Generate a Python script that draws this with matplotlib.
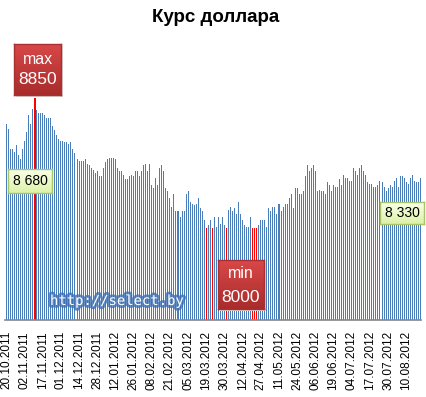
import matplotlib
matplotlib.use('Agg')
import matplotlib.pyplot as plt
import matplotlib.patheffects as pe
import numpy as np

W, H = 427, 397

# daily USD rate (BYR), one bar per working day
rate = [8680, 8650, 8520, 8520, 8500, 8540, 8480, 8450, 8520, 8570,
        8630, 8740, 8680, 8780, 8850, 8770, 8750, 8750, 8750, 8740,
        8720, 8720, 8720, 8670, 8640, 8610, 8580, 8570, 8570, 8560,
        8560, 8550, 8560, 8520, 8490, 8450, 8440, 8440, 8440, 8450,
        8420, 8410, 8390, 8380, 8360, 8370, 8340, 8340, 8390, 8430,
        8450, 8460, 8460, 8460, 8450, 8390, 8370, 8370, 8350, 8320,
        8320, 8340, 8350, 8340, 8370, 8370, 8340, 8370, 8410, 8420,
        8370, 8420, 8280, 8260, 8330, 8280, 8390, 8410, 8370, 8260,
        8240, 8200, 8140, 8220, 8110, 8110, 8070, 8110, 8110, 8220,
        8240, 8170, 8160, 8150, 8160, 8200, 8130, 8110, 8050, 8000,
        8020, 8050, 8000, 8070, 8010, 8070, 8030, 8070, 8020, 8000,
        8120, 8140, 8110, 8130, 8090, 8170, 8090, 8050, 8020, 8010,
        8010, 8070, 8000, 8000, 8000, 8020, 8050, 8050, 8050, 8010,
        8130, 8110, 8140, 8140, 8090, 8160, 8110, 8140, 8160, 8160,
        8200, 8220, 8130, 8260, 8260, 8220, 8220, 8240, 8340, 8410,
        8370, 8390, 8410, 8370, 8240, 8250, 8240, 8240, 8220, 8300,
        8280, 8240, 8280, 8270, 8270, 8320, 8280, 8350, 8330, 8330,
        8310, 8310, 8390, 8370, 8350, 8390, 8410, 8370, 8350, 8300,
        8290, 8290, 8270, 8270, 8280, 8310, 8300, 8270, 8240, 8260,
        8280, 8270, 8310, 8330, 8270, 8340, 8340, 8330, 8300, 8290,
        8330, 8350, 8310, 8300, 8300, 8330]

dates = ['20.10.2011', '02.11.2011', '17.11.2011', '01.12.2011', '14.12.2011',
         '28.12.2011', '12.01.2012', '26.01.2012', '08.02.2012', '21.02.2012',
         '05.03.2012', '19.03.2012', '30.03.2012', '12.04.2012', '27.04.2012',
         '11.05.2012', '24.05.2012', '06.06.2012', '19.06.2012', '04.07.2012',
         '17.07.2012', '30.07.2012', '10.08.2012']
label_step = 9

rate = np.array(rate)
x = np.arange(len(rate))
vmax, vmin = rate.max(), rate.min()
imax = int(np.argmax(rate))


def fx(px):
    return px / W


def fy(py):
    return 1 - py / H


fig = plt.figure(figsize=(W / 100, H / 100), dpi=100)
fig.patch.set_facecolor('white')

ax = fig.add_axes([fx(5.3), fy(320), fx(421.4) - fx(5.3), 245 / H])
blue = '#4A7EBB'
ax.bar(x, rate, width=0.5, color=blue, linewidth=0, antialiased=False)
is_min = rate == vmin
ax.bar(x[is_min], rate[is_min], width=0.6, color='red', linewidth=0, antialiased=False)
ax.bar([imax], [vmax], width=1.0, color='red', linewidth=0, antialiased=False)

ax.set_ylim(7400, 9000)
ax.set_xlim(-0.5, len(rate) - 0.5)
for s in ['top', 'left', 'right']:
    ax.spines[s].set_visible(False)
ax.spines['bottom'].set_color('#868686')
ax.spines['bottom'].set_linewidth(1.2)
ax.set_yticks([])
ax.set_xticks(x[::label_step][:len(dates)])
ax.set_xticklabels(dates, rotation=90, fontsize=8.5, family='Liberation Sans')
ax.tick_params(axis='x', length=0, pad=8)

fig.text(fx(216), fy(17), 'Курс доллара', ha='center', va='center',
         fontsize=13.5, fontweight='bold', family='Liberation Sans')


def grad_box(x0, y0, x1, y1, c_top, c_bot, edge, shadow=False):
    if shadow:
        sh = fig.add_axes([fx(x0 + 2), fy(y1 + 2), fx(x1 - x0), (y1 - y0) / H])
        sh.set_facecolor('#dadada')
        sh.set_xticks([]); sh.set_yticks([])
        for s in sh.spines.values():
            s.set_visible(False)
    bx = fig.add_axes([fx(x0), fy(y1), fx(x1 - x0), (y1 - y0) / H])
    c1 = np.array(matplotlib.colors.to_rgb(c_top))
    c2 = np.array(matplotlib.colors.to_rgb(c_bot))
    t = np.linspace(0, 1, 50)[:, None, None]
    img = c1 * (1 - t) + c2 * t
    bx.imshow(img, aspect='auto', extent=[0, 1, 0, 1])
    bx.set_xticks([]); bx.set_yticks([])
    for s in bx.spines.values():
        s.set_color(edge)
        s.set_linewidth(1)
    return bx


# max / min labels
grad_box(14, 44, 61, 95, '#D94848', '#A82C2C', '#A83030', shadow=True)
fig.text(fx(37.5), fy(59), 'max', ha='center', va='center', color='white',
         fontsize=11.5, family='Liberation Sans')
fig.text(fx(37.5), fy(80), '8850', ha='center', va='center', color='white',
         fontsize=12.5, family='Liberation Sans')

grad_box(218, 260, 264, 309, '#D94848', '#A82C2C', '#A83030', shadow=True)
fig.text(fx(241), fy(274), 'min', ha='center', va='center', color='white',
         fontsize=11.5, family='Liberation Sans')
fig.text(fx(241), fy(297), '8000', ha='center', va='center', color='white',
         fontsize=12.5, family='Liberation Sans')

# first / last value labels
grad_box(8, 169, 52, 193, '#FAFFE8', '#DDF2A8', '#A9C46A')
fig.text(fx(30), fy(181), '8 680', ha='center', va='center', color='black',
         fontsize=10, family='Liberation Sans')
grad_box(380, 202, 424, 224, '#FAFFE8', '#DDF2A8', '#A9C46A')
fig.text(fx(402), fy(213), '8 330', ha='center', va='center', color='black',
         fontsize=10, family='Liberation Sans')

# watermark
fig.text(fx(117), fy(301), 'http://select.by', ha='center', va='center',
         color='white', fontsize=10, family='DejaVu Sans Mono',
         path_effects=[pe.withStroke(linewidth=4, foreground='#3C6FB4', alpha=0.8)])

fig.savefig('out.png', dpi=100)
